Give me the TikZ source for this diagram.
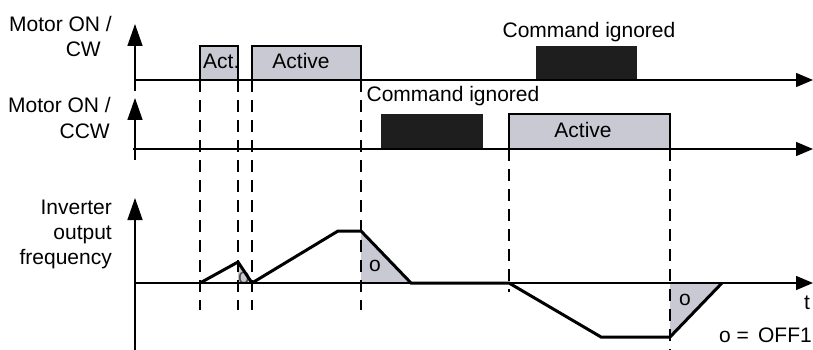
\documentclass[tikz,border=0pt]{standalone}
\usepackage{fontspec}
\setmainfont{Liberation Sans}
\usetikzlibrary{arrows.meta}
\definecolor{actgrey}{HTML}{C8C9D3}
\definecolor{ignblack}{HTML}{1E1E1E}
\begin{document}
\begin{tikzpicture}[x=1pt,y=-1pt,
  lbl/.style={font=\fontsize{21}{25}\selectfont, inner sep=0pt},
  axis/.style={line width=1.4pt},
  varrow/.style={-{Triangle[length=22pt,width=15pt]}},
  harrow/.style={-{Triangle[length=17pt,width=14pt]}},
  actbox/.style={fill=actgrey, draw=black, line width=1.6pt},
  ignbox/.style={fill=ignblack, draw=ignblack, line width=0.8pt},
  guide/.style={line width=1.6pt, dash pattern=on 12pt off 8pt},
  curve/.style={line width=3pt, line join=miter},
  offtri/.style={fill=actgrey}]
\useasboundingbox (0,0) rectangle (813,350);

% ---- labels on the left
\node[lbl, anchor=base east] (cw1) at (112,32) {Motor ON /};
\node[lbl, anchor=base east] (cw2) at (101,57) {CW};
\node[lbl, anchor=base east] (ccw1) at (111,113) {Motor ON /};
\node[lbl, anchor=base east] (ccw2) at (110,138) {CCW};
\node[lbl, anchor=base east] (inv1) at (112,214) {Inverter};
\node[lbl, anchor=base east] (inv2) at (112,239) {output};
\node[lbl, anchor=base east] (inv3) at (112,264) {frequency};

% ---- CW track
\draw[actbox] (200,80) rectangle (238,46);
\draw[actbox] (252,80) rectangle (361,46);
\draw[ignbox] (536,80) rectangle (636,46);
\node[lbl, anchor=base west] (act1) at (203,69) {Act.};
\node[lbl, anchor=base] (act2) at (301,69) {Active};
\node[lbl, anchor=base] (ign1) at (589,38) {Command ignored};

% ---- CCW track
\draw[ignbox] (381,149) rectangle (482,114);
\draw[actbox] (509,149) rectangle (670,114);
\node[lbl, anchor=base] (act3) at (583,137) {Active};
\node[lbl, anchor=base] (ign2) at (453,102) {Command ignored};

% ---- OFF1 shaded areas
\fill[offtri] (238,262) -- (238,283) -- (252,283) -- cycle;
\fill[offtri] (361,231) -- (361,283) -- (411,283) -- cycle;
\fill[offtri] (670,337) -- (670,283) -- (722,283) -- cycle;
\node[lbl, anchor=base, text=black!70] (o1) at (244,283) {o};
\node[lbl, anchor=base] (o2) at (375,271) {o};
\node[lbl, anchor=base] (o3) at (685,305) {o};

% ---- dashed guides
\draw[guide] (200,80) -- (200,310);
\draw[guide] (238,80) -- (238,310);
\draw[guide] (252,80) -- (252,310);
\draw[guide] (361,80) -- (361,310);
\draw[guide] (509,149) -- (509,292);
\draw[guide] (670,149) -- (670,350);

% ---- axes
\draw[axis,varrow] (135,91) -- (135,24);
\draw[axis,harrow] (135,80) -- (813,80);
\draw[axis,varrow] (135,160) -- (135,98);
\draw[axis,harrow] (133,149) -- (813,149);
\draw[axis,varrow] (135,350) -- (135,198);
\draw[axis,harrow] (135,283) -- (813,283);

% ---- frequency curve
\draw[curve] (200,283) -- (238,262) -- (252,283);
\draw[curve] (252,283) -- (338,231) -- (361,231) -- (411,283) -- (509,283)
  -- (601,337) -- (670,337) -- (722,283);

% ---- legend
\node[lbl, anchor=base] (tlab) at (807,309) {t};
\node[lbl, anchor=base east] (leg) at (812,342) {o =\ \,OFF1};
\end{tikzpicture}
\end{document}
